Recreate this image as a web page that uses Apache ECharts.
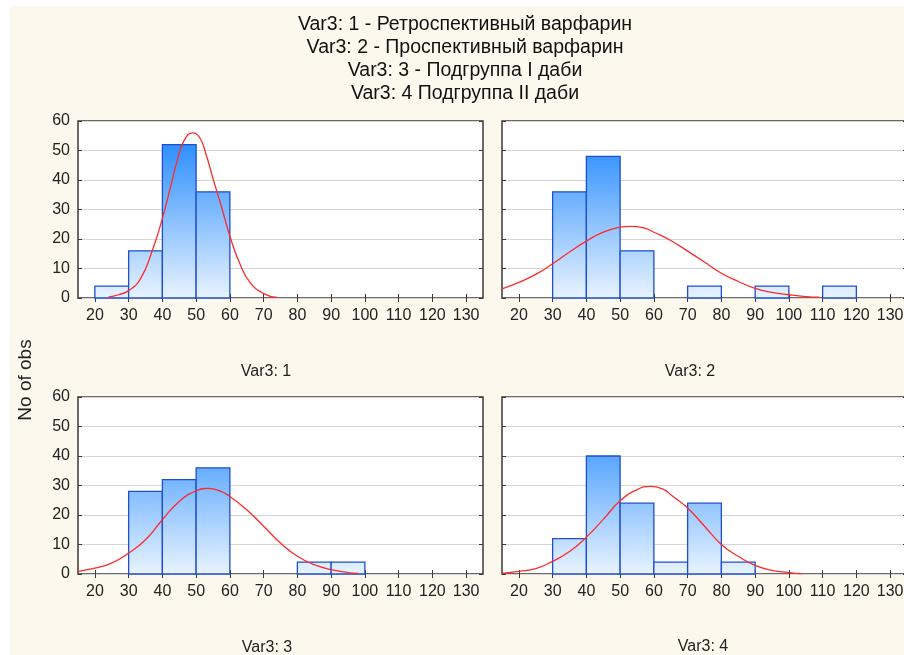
<!DOCTYPE html>
<html>
<head>
<meta charset="utf-8">
<script src="https://cdn.jsdelivr.net/npm/echarts@6/dist/echarts.min.js"></script>
<style>
  html, body { margin: 0; padding: 0; background: #ffffff; overflow: hidden; width: 904px; height: 655px; }
  #paper { position: absolute; left: 10px; top: 6px; width: 894px; height: 649px; background: #fdf8ed; }
  #chart { position: absolute; left: 0; top: 0; width: 920px; height: 655px; }
</style>
</head>
<body>
<div id="paper"></div>
<div id="chart"></div>
<script>
// Header lines and panel captions
const titleLines = [
  'Var3: 1 - Ретроспективный варфарин',
  'Var3: 2 - Проспективный варфарин',
  'Var3: 3 - Подгруппа I даби',
  'Var3: 4 Подгруппа II даби'
];
const panelNames = ['Var3: 1', 'Var3: 2', 'Var3: 3', 'Var3: 4'];
const yAxisName = 'No of obs';

// Axis ticks
const xTicks = [20, 30, 40, 50, 60, 70, 80, 90, 100, 110, 120, 130];
const yTicks = [0, 10, 20, 30, 40, 50, 60];
const binWidth = 10;

// Histogram bins (left edge) and counts per group
const bins1 = [20, 30, 40, 50];
const counts1 = [4, 16, 52, 36];
const bins2 = [30, 40, 50, 70, 90, 110];
const counts2 = [36, 48, 16, 4, 4, 4];
const bins3 = [30, 40, 50, 80, 90];
const counts3 = [28, 32, 36, 4, 4];
const bins4 = [30, 40, 50, 60, 70, 80];
const counts4 = [12, 40, 24, 4, 24, 4];

// Fitted normal curves, sampled points
const curveX1 = [24, 27, 30, 33.5, 37, 40, 42.5, 44.5, 46.5, 49, 51, 53, 55, 57.5, 60, 63, 66, 70, 74];
const curveY1 = [0.3, 1.1, 2.5, 6.5, 16, 27, 38, 47, 53.5, 56, 54.5, 48.5, 40.5, 31, 21, 11.5, 5.2, 1.5, 0.2];
const curveX2 = [15, 20, 25, 30, 35, 40, 45, 50, 53, 57, 60, 65, 70, 75, 80, 85, 90, 95, 100, 105, 109];
const curveY2 = [3.1, 5.3, 8, 11.6, 15.6, 19.3, 22.3, 24, 24.3, 23.8, 22.3, 19.5, 15.9, 12.2, 8.4, 5.6, 3.3, 1.9, 1.1, 0.5, 0.3];
const curveX3 = [15, 20, 25, 30, 35, 40, 45, 50, 53.5, 57, 60, 65, 70, 75, 80, 85, 90, 95, 98];
const curveY3 = [0.9, 2.0, 3.7, 7.1, 11.6, 18.4, 24.6, 28.2, 29.0, 28.2, 26.3, 21.8, 16.2, 10.5, 6.0, 3.2, 1.5, 0.5, 0.2];
const curveX4 = [15, 20, 25, 30, 35, 40, 45, 50, 55, 59, 63, 65, 70, 75, 80, 85, 90, 95, 100, 104];
const curveY4 = [0.2, 0.9, 1.8, 4.3, 7.6, 12.5, 18.5, 24.8, 28.6, 29.7, 28.6, 26.9, 22.4, 16.2, 10.0, 6.0, 2.9, 1.2, 0.5, 0.1];

const panels = [
  { bins: bins1, counts: counts1, cx: curveX1, cy: curveY1 },
  { bins: bins2, counts: counts2, cx: curveX2, cy: curveY2 },
  { bins: bins3, counts: counts3, cx: curveX3, cy: curveY3 },
  { bins: bins4, counts: counts4, cx: curveX4, cy: curveY4 }
];

const X_MIN = 15, X_MAX = 135, Y_MIN = 0, Y_MAX = 60;
const FONT = '"Liberation Sans", Arial, sans-serif';
const INK = '#222222';
const FRAME = '#3a3a3a';

const gridBoxes = [
  { left: 78, top: 121, width: 405, height: 177 },
  { left: 502, top: 121, width: 405, height: 177 },
  { left: 78, top: 397, width: 405, height: 177 },
  { left: 502, top: 397, width: 405, height: 177 }
];
const captionPos = [[266, 372], [690, 372], [267, 648], [703, 647]];

const grid = gridBoxes.map(b => Object.assign({
  show: true, backgroundColor: '#ffffff', borderColor: FRAME, borderWidth: 1.5, containLabel: false
}, b));

const xAxis = [];
const yAxis = [];
const series = [];

panels.forEach((p, i) => {
  const leftColumn = (i % 2 === 0);
  // bottom axis with labels, top axis with ticks only
  ['bottom', 'top'].forEach(pos => {
    xAxis.push({
      type: 'value', gridIndex: i, position: pos, min: X_MIN, max: X_MAX,
      axisLine: { show: false },
      splitLine: { show: false },
      axisTick: { show: true, inside: true, length: 4, customValues: xTicks, lineStyle: { color: FRAME, width: 1 } },
      axisLabel: {
        show: pos === 'bottom', customValues: xTicks, margin: 10,
        fontSize: 16, fontFamily: FONT, color: INK
      }
    });
  });
  // left axis (labels only on the left column), right axis with ticks only
  ['left', 'right'].forEach(pos => {
    yAxis.push({
      type: 'value', gridIndex: i, position: pos, min: Y_MIN, max: Y_MAX, interval: 10,
      axisLine: { show: false },
      splitLine: { show: pos === 'left', lineStyle: { color: '#d6d6d6', width: 1 } },
      axisTick: { show: true, inside: true, length: 4, lineStyle: { color: FRAME, width: 1 } },
      axisLabel: {
        show: pos === 'left' && leftColumn, margin: 8, fontSize: 16, fontFamily: FONT, color: INK,
        customValues: yTicks
      }
    });
  });

  const xIdx = i * 2, yIdx = i * 2;

  series.push({
    type: 'custom',
    xAxisIndex: xIdx, yAxisIndex: yIdx,
    encode: { x: [0, 1], y: 2 },
    data: p.bins.map((lo, k) => [lo, lo + binWidth, p.counts[k]]),
    renderItem: (params, api) => {
      const lo = api.value(0), hi = api.value(1), n = api.value(2);
      const a = api.coord([lo, n]);
      const b = api.coord([hi, 0]);
      const yTop = api.coord([lo, Y_MAX])[1];
      const yBot = api.coord([lo, 0])[1];
      const fill = new echarts.graphic.LinearGradient(0, yTop, 0, yBot, [
        { offset: 0, color: '#1280ff' },
        { offset: 1, color: '#e8f3ff' }
      ], true);
      return {
        type: 'rect',
        shape: { x: a[0], y: a[1], width: b[0] - a[0], height: b[1] - a[1] },
        style: { fill: fill, stroke: '#1f4fcc', lineWidth: 1.3 }
      };
    },
    z: 2
  });

  series.push({
    type: 'line',
    xAxisIndex: xIdx, yAxisIndex: yIdx,
    data: p.cx.map((x, k) => [x, p.cy[k]]),
    smooth: true,
    showSymbol: false,
    symbol: 'none',
    clip: true,
    lineStyle: { color: '#ff2a2a', width: 1.3 },
    z: 3
  });
});

const graphic = [];
titleLines.forEach((t, i) => {
  graphic.push({
    type: 'text', x: 465, y: 24.5 + i * 23, silent: true,
    style: { text: t, fontSize: 19.5, fontFamily: FONT, fill: '#111111', align: 'center', verticalAlign: 'middle' }
  });
});
panelNames.forEach((t, i) => {
  graphic.push({
    type: 'text', x: captionPos[i][0], y: captionPos[i][1], silent: true,
    style: { text: t, fontSize: 16, fontFamily: FONT, fill: INK, align: 'center', verticalAlign: 'middle' }
  });
});
graphic.push({
  type: 'text', x: 26, y: 380, rotation: Math.PI / 2, silent: true,
  style: { text: yAxisName, fontSize: 19, fontFamily: FONT, fill: INK, align: 'center', verticalAlign: 'middle' }
});

const chart = echarts.init(document.getElementById('chart'), null, { renderer: 'canvas' });
chart.setOption({
  backgroundColor: 'transparent',
  animation: false,
  grid: grid,
  xAxis: xAxis,
  yAxis: yAxis,
  series: series,
  graphic: graphic
});
</script>
</body>
</html>
